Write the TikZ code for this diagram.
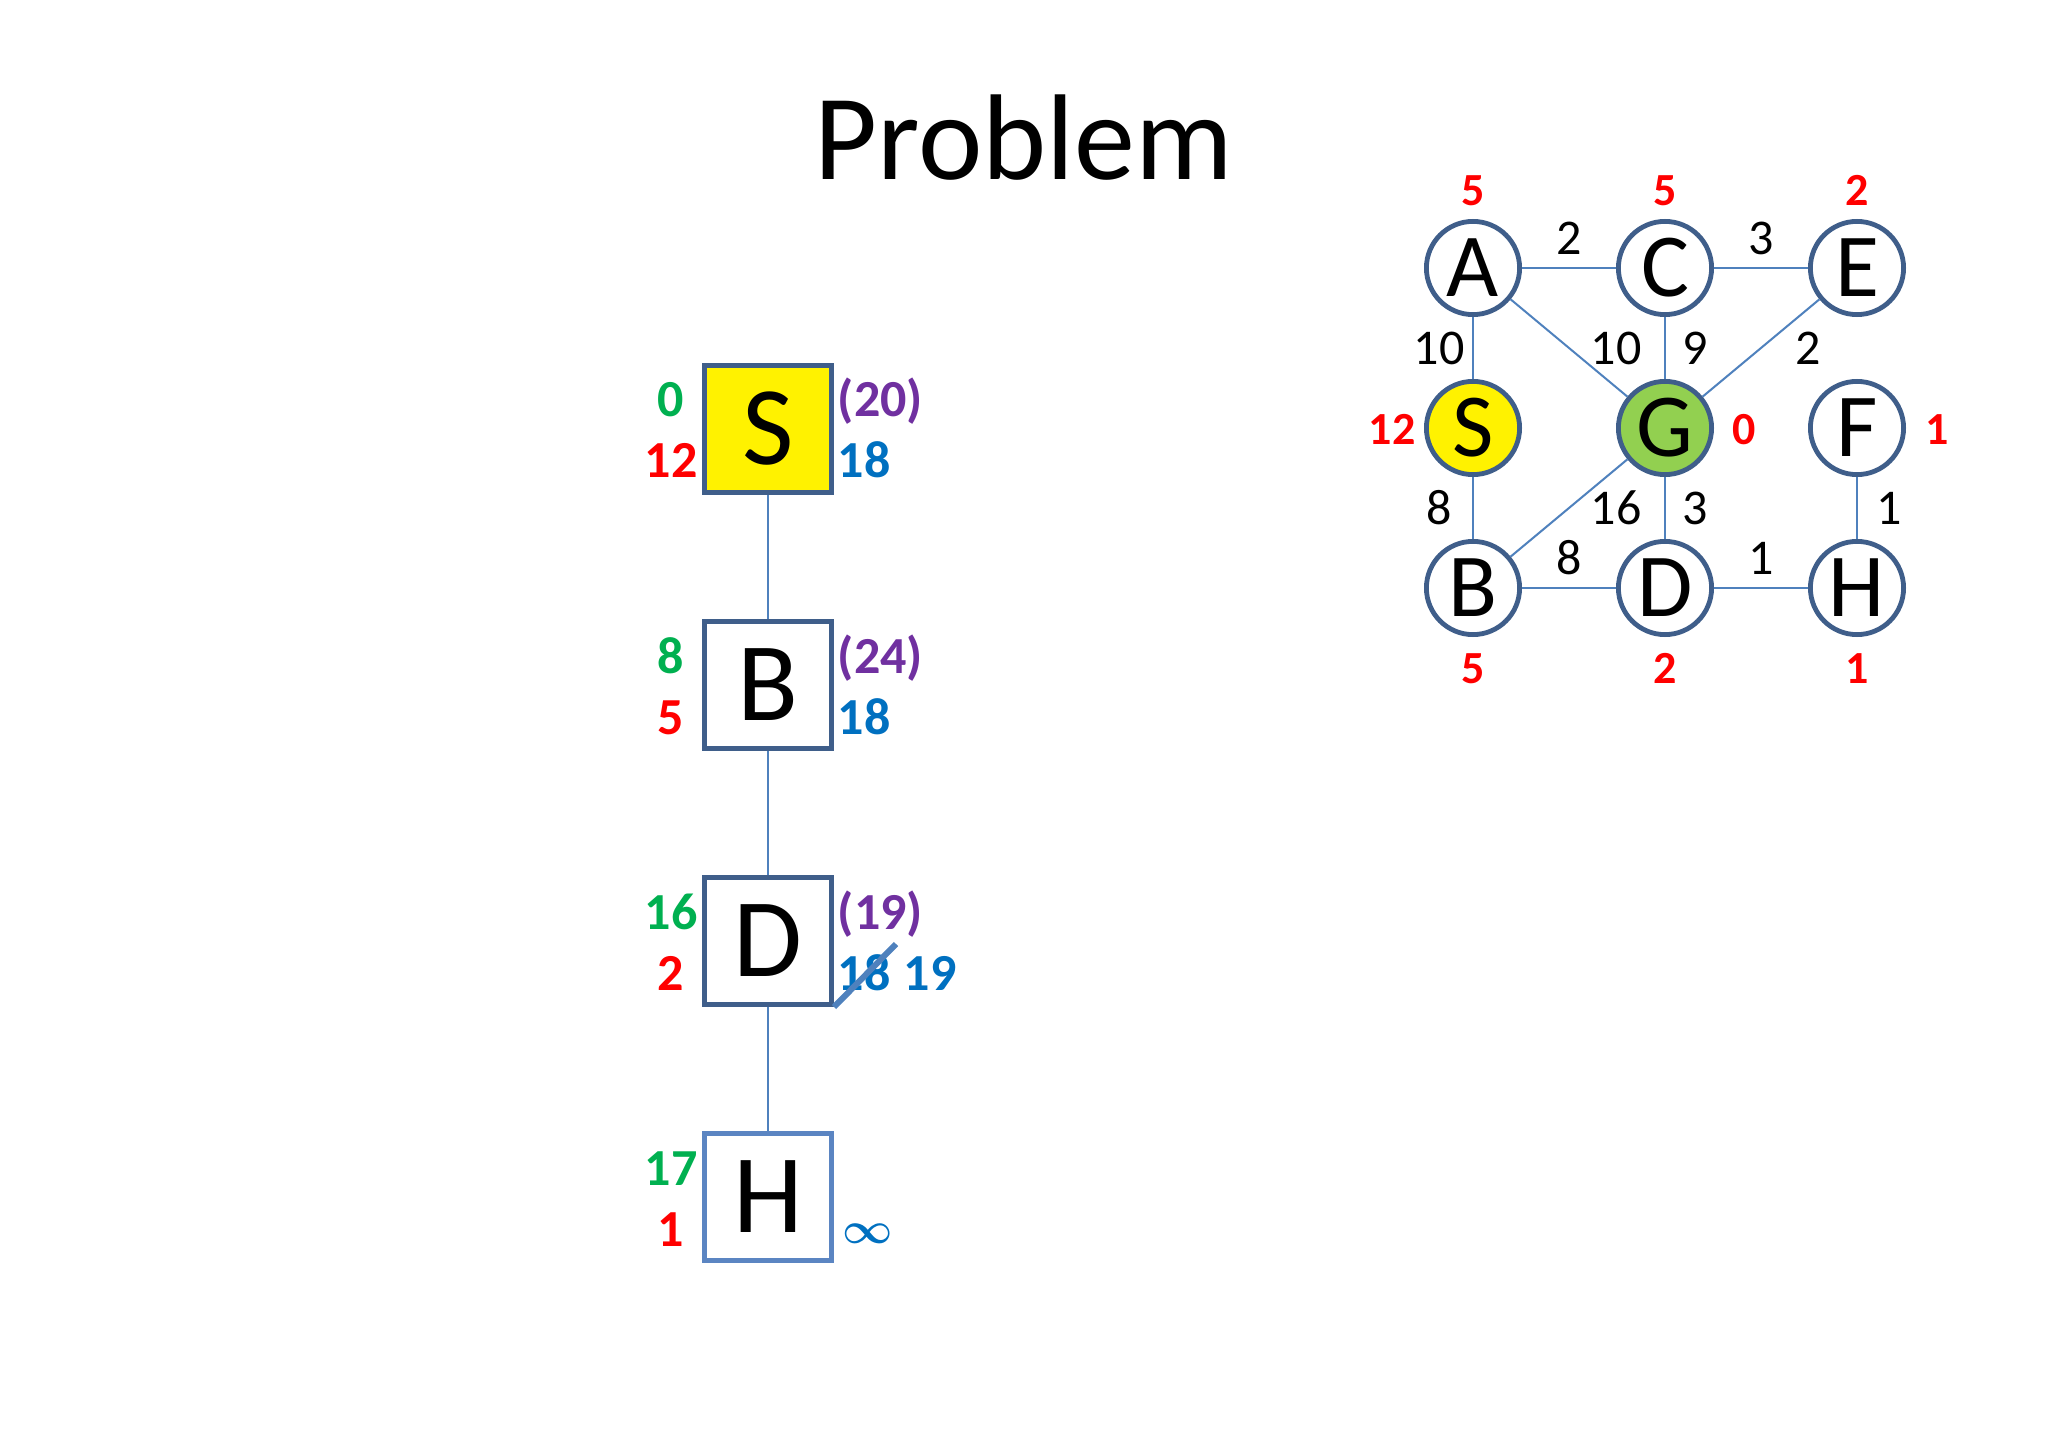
\documentclass[tikz,border=0pt]{standalone}
\usepackage{fontspec}
\setmainfont{Carlito}
\usetikzlibrary{positioning}

\definecolor{boxline}{HTML}{3F5E8A}
\definecolor{paleline}{HTML}{5B85C2}
\definecolor{edgeblue}{HTML}{4F81BD}
\definecolor{gval}{HTML}{00B050}
\definecolor{hval}{HTML}{FF0000}
\definecolor{fval}{HTML}{7030A0}
\definecolor{cval}{HTML}{0070C0}
\definecolor{goal}{HTML}{92D050}

\begin{document}
\begin{tikzpicture}[
  x=0.25pt,y=-0.25pt,
  node distance=64pt and 48pt,on grid,
  tree/.style={draw=boxline,line width=1.2pt,minimum size=31.8pt,inner sep=0pt,font=\fontsize{28}{30}\selectfont},
  vert/.style={draw=boxline,line width=1.2pt,circle,minimum size=23.3pt,inner sep=0pt,fill=white,font=\fontsize{22.5}{24}\selectfont},
  link/.style={edgeblue,line width=0.5pt},
  num/.style={inner sep=0pt,font=\bfseries\fontsize{13}{15}\selectfont},
  hnum/.style={inner sep=0pt,anchor=base,text=hval,font=\bfseries\fontsize{11.5}{13}\selectfont},
  wt/.style={inner sep=0pt,text=black,font=\fontsize{12.5}{14}\selectfont}
]
  \useasboundingbox (0,0) rectangle (2048,1434);

  \node[anchor=base,inner sep=0pt,font=\fontsize{30.5}{33}\selectfont] (title) at (1024,180) {Problem};

  % search tree
  \node[tree,fill=yellow] (tS) at (768,429) {S};
  \node[tree,fill=white,below=of tS] (tB) {B};
  \node[tree,fill=white,below=of tB] (tD) {D};
  \node[tree,fill=white,draw=paleline,below=of tD] (tH) {H};

  \draw[link] (tS) -- (tB);
  \draw[link] (tB) -- (tD);
  \draw[link] (tD) -- (tH);

  \node[num,text=gval,anchor=base] at ([shift={(-24.25pt,3pt)}]tS.center) {0};
  \node[num,text=hval,anchor=base] at ([shift={(-24.25pt,-12.25pt)}]tS.center) {12};
  \node[num,text=fval,anchor=base west] at ([shift={(17.25pt,3pt)}]tS.center) {(20)};
  \node[num,text=cval,anchor=base west] at ([shift={(17.25pt,-12.25pt)}]tS.center) {18};

  \node[num,text=gval,anchor=base] at ([shift={(-24.25pt,3pt)}]tB.center) {8};
  \node[num,text=hval,anchor=base] at ([shift={(-24.25pt,-12.25pt)}]tB.center) {5};
  \node[num,text=fval,anchor=base west] at ([shift={(17.25pt,3pt)}]tB.center) {(24)};
  \node[num,text=cval,anchor=base west] at ([shift={(17.25pt,-12.25pt)}]tB.center) {18};

  \node[num,text=gval,anchor=base] at ([shift={(-24.25pt,3pt)}]tD.center) {16};
  \node[num,text=hval,anchor=base] at ([shift={(-24.25pt,-12.25pt)}]tD.center) {2};
  \node[num,text=fval,anchor=base west] at ([shift={(17.25pt,3pt)}]tD.center) {(19)};
  \node[num,text=cval,anchor=base west] (old) at ([shift={(17.25pt,-12.25pt)}]tD.center) {18};
  \node[num,text=cval,anchor=base west] (new) at ([shift={(33.75pt,-12.25pt)}]tD.center) {19};
  \coordinate (cut) at ([shift={(15.5pt,15.75pt)}]tD.south east);
  \draw[edgeblue,line width=1.5pt] (tD.south east) -- (cut);

  \node[num,text=gval,anchor=base] at ([shift={(-24.25pt,3pt)}]tH.center) {17};
  \node[num,text=hval,anchor=base] at ([shift={(-24.25pt,-12.25pt)}]tH.center) {1};
  \node[inner sep=0pt,text=cval,anchor=west,font=\boldmath\fontsize{11}{13}\selectfont] (inf) at ([shift={(18.5pt,-9.25pt)}]tH.center) {$\infty$};

  % graph
  \node[vert] (A) at (1473,268) {A};
  \node[vert,right=of A] (C) {C};
  \node[vert,right=of C] (E) {E};
  \node[vert,fill=yellow,below=40pt of A] (S) {S};
  \node[vert,fill=goal,below=40pt of C] (G) {G};
  \node[vert,below=40pt of E] (F) {F};
  \node[vert,below=40pt of S] (B) {B};
  \node[vert,below=40pt of G] (D) {D};
  \node[vert,below=40pt of F] (H) {H};

  \draw[link] (A) -- node[wt,yshift=7.5pt] {2} (C);
  \draw[link] (C) -- node[wt,yshift=7.5pt] {3} (E);
  \draw[link] (A) -- node[wt,xshift=-8.5pt] {10} (S);
  \draw[link] (A) -- node[wt,xshift=11.75pt] {10} (G);
  \draw[link] (C) -- node[wt,xshift=7.5pt] {9} (G);
  \draw[link] (E) -- node[wt,xshift=11.75pt] {2} (G);
  \draw[link] (S) -- node[wt,xshift=-8.5pt] {8} (B);
  \draw[link] (B) -- node[wt,xshift=11.75pt] {16} (G);
  \draw[link] (G) -- node[wt,xshift=7.5pt] {3} (D);
  \draw[link] (F) -- node[wt,xshift=8pt] {1} (H);
  \draw[link] (B) -- node[wt,yshift=7.5pt] {8} (D);
  \draw[link] (D) -- node[wt,yshift=7.5pt] {1} (H);

  \node[hnum] at ([yshift=15.5pt]A.center) {5};
  \node[hnum] at ([yshift=15.5pt]C.center) {5};
  \node[hnum] at ([yshift=15.5pt]E.center) {2};
  \node[hnum] at ([shift={(-20.25pt,-4pt)}]S.center) {12};
  \node[hnum] at ([shift={(19.75pt,-4pt)}]G.center) {0};
  \node[hnum] at ([shift={(20pt,-4pt)}]F.center) {1};
  \node[hnum] at ([yshift=-24pt]B.center) {5};
  \node[hnum] at ([yshift=-24pt]D.center) {2};
  \node[hnum] at ([yshift=-24pt]H.center) {1};
\end{tikzpicture}
\end{document}
